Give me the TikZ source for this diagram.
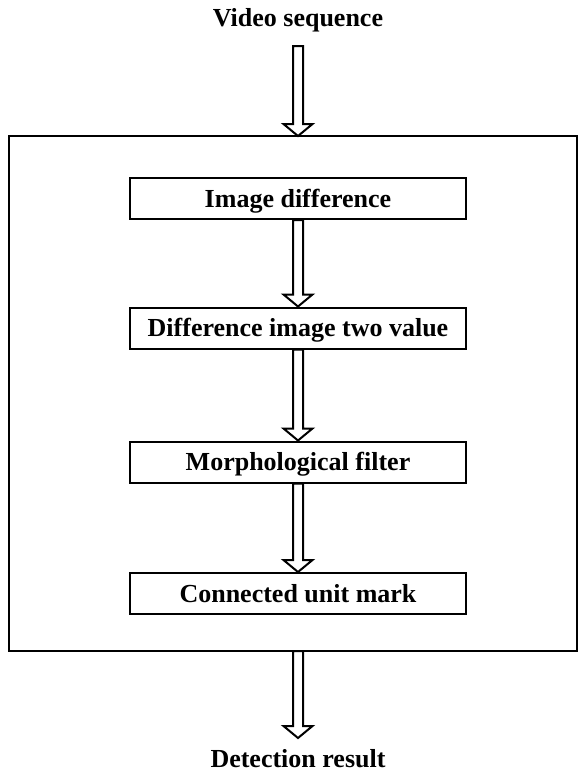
\documentclass[tikz,border=0pt]{standalone}
\usepackage{fontspec}
\setmainfont{Liberation Serif}
\usetikzlibrary{positioning,calc}
\tikzset{stage/.style={draw,line width=1.5pt,minimum width=252pt,minimum height=30.75pt,inner sep=0pt,text height=12.9pt,text depth=0pt,font=\bfseries\fontsize{19.5}{22}\selectfont}}
\tikzset{endtext/.style={inner sep=0pt,font=\bfseries\fontsize{19.5}{22}\selectfont}}
\tikzset{hollow/.style={line width=1.5pt,line join=miter}}
% hollow block arrow from the point #1 down to the tip #2
\newcommand{\hollowarrow}[2]{%
  \draw[hollow] ($(#1)+(-5,0)$) -- ($(#2)+(-5,-12)$) -- ($(#2)+(-14.5,-12)$) -- (#2)
    -- ($(#2)+(14.5,-12)$) -- ($(#2)+(5,-12)$) -- ($(#1)+(5,0)$) -- cycle;}

\begin{document}
\begin{tikzpicture}[x=0.75pt,y=-0.75pt]
  \useasboundingbox (0,0) rectangle (584,776);

  % outer frame
  \draw[line width=2pt] (9,136) rectangle (577,651);
  \coordinate (frametop) at (298,136);
  \coordinate (framebot) at (298,651);

  \node[endtext] (video) at (298,20) {Video sequence};
  \node[endtext] (result) at (298,759) {Detection result};
  \coordinate (videobot) at (298,46);
  \coordinate (resulttop) at (298,738);

  \node[stage] (diff)  at (298,198.5) {Image difference};
  \node[stage] (binar) at (298,328)   {Difference image two value};
  \node[stage] (morph) at (298,462)   {Morphological filter};
  \node[stage] (conn)  at (298,593.5) {Connected unit mark};

  \hollowarrow{videobot}{frametop}
  \hollowarrow{diff.south}{binar.north}
  \hollowarrow{binar.south}{morph.north}
  \hollowarrow{morph.south}{conn.north}
  \hollowarrow{framebot}{resulttop}
\end{tikzpicture}
\end{document}
